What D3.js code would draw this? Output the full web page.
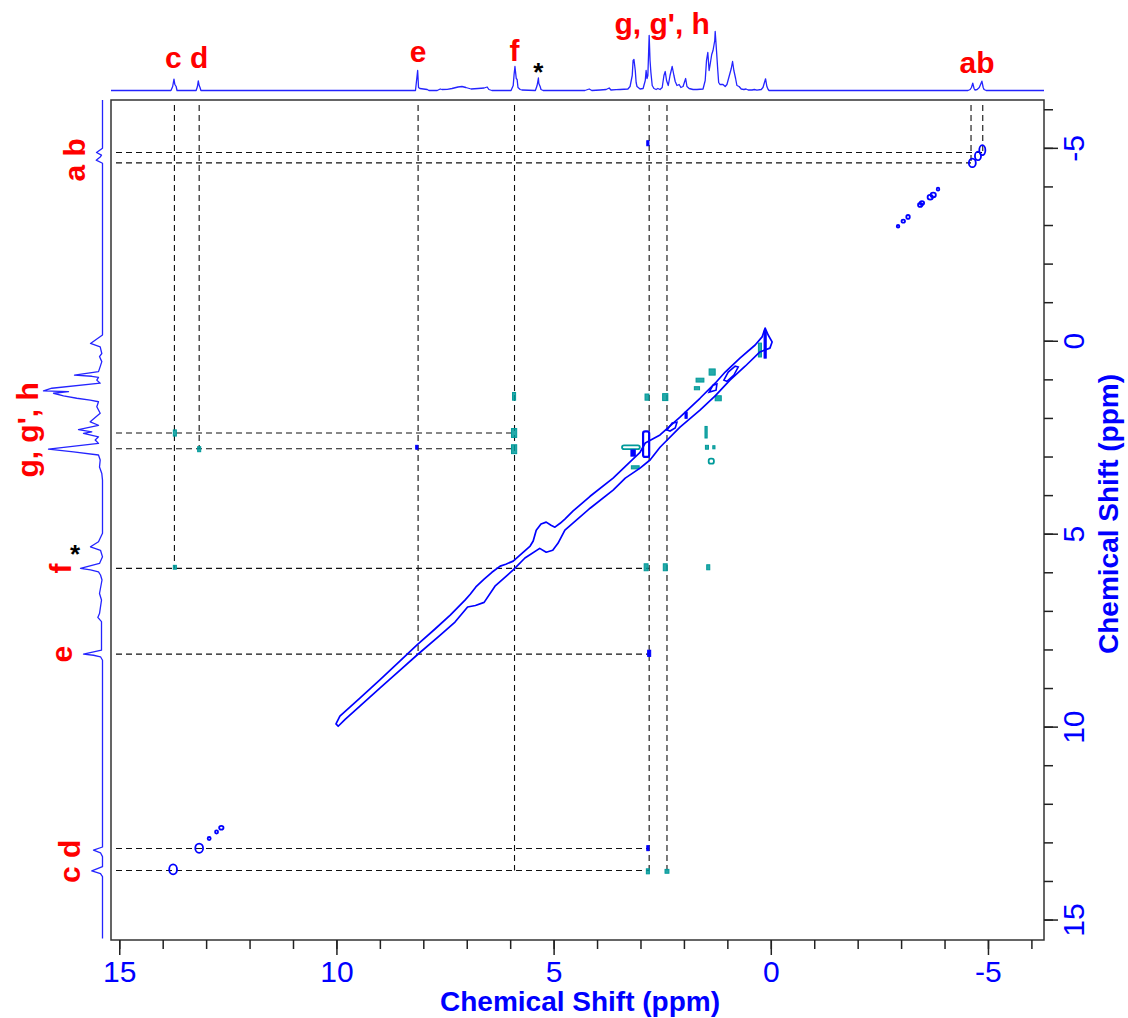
<!DOCTYPE html>
<html>
<head>
<meta charset="utf-8">
<script src="https://cdn.jsdelivr.net/npm/d3@7/dist/d3.min.js"></script>
<style>
html,body{margin:0;padding:0;background:#fff;}
svg{display:block;}
text{font-family:"Liberation Sans",Arial,Helvetica,sans-serif;}
</style>
</head>
<body>
<svg id="chart" width="1128" height="1018"></svg>
<script>
// ---- axis ticks (ppm) ----
const xMinorTicks = [15,14,13,12,11,10,9,8,7,6,5,4,3,2,1,0,-1,-2,-3,-4,-5,-6];
const xMajorTicks = [15,10,5,0,-5];
const yMinorTicks = [-6,-5,-4,-3,-2,-1,0,1,2,3,4,5,6,7,8,9,10,11,12,13,14,15];
const yMajorTicks = [-5,0,5,10,15];
const axisTitle = "Chemical Shift (ppm)";

// ---- assigned resonances (ppm) ----
const peakNames  = ["a", "b", "c", "d", "e", "f", "g", "g'"];
const peakShifts = [-4.61, -4.88, 13.73, 13.16, 8.12, 5.90, 2.80, 2.39];

// ---- top 1D projection: [ppm, intensity] ----
const topTrace = [
  [15.19,0],[13.81,0],[13.77,4],[13.74,11.4],[13.72,6],[13.69,4],[13.67,0],
  [13.23,0],[13.20,4],[13.18,9.6],[13.16,5],[13.14,3],[13.12,0],
  [8.18,0],[8.16,8],[8.13,20],[8.11,3],[8.08,2],[7.91,1],[7.87,0],
  [7.68,0],[7.61,1.5],[7.57,1],[7.45,1.2],[7.34,2],[7.20,3.5],[7.11,4],[7.02,3],[6.90,1.5],
  [6.74,2],[6.60,2.5],[6.53,3.5],[6.49,1],[6.42,0],
  [5.98,0],[5.93,5],[5.91,16],[5.89,24],[5.86,12],[5.84,11],[5.82,3],[5.77,1],[5.73,0.5],
  [5.42,0],[5.38,5],[5.35,12.5],[5.34,7],[5.31,4],[5.29,1],[5.24,0],
  [4.28,0],[4.18,1.5],[4.12,0],[3.93,0.5],[3.79,1],[3.72,2.5],[3.68,0.5],[3.56,0.8],[3.47,1],
  [3.29,1.5],[3.24,4],[3.19,15],[3.17,30],[3.15,31],[3.12,20],[3.10,8],[3.08,4],[3.01,1.5],
  [2.94,2],[2.89,10],[2.87,20],[2.85,12],[2.83,15],[2.80,55],[2.78,30],[2.76,18],[2.73,5],
  [2.69,2],[2.64,1],[2.60,2],[2.55,1],[2.50,3],[2.46,15],[2.43,19],[2.40,10],[2.36,5],
  [2.32,15],[2.27,24],[2.23,15],[2.20,9],[2.16,5],[2.11,6],[2.07,3],[2.02,4],[1.96,12],
  [1.93,4],[1.88,2],[1.79,1],[1.70,1],[1.56,1.5],[1.51,10],[1.48,30],[1.45,38],[1.42,20],
  [1.40,25],[1.36,36],[1.33,40],[1.29,50],[1.28,59],[1.25,40],[1.22,20],[1.20,8],[1.17,6],
  [1.10,6],[1.05,4],[1.01,6],[0.96,14],[0.91,22],[0.88,29],[0.85,20],[0.81,12],[0.78,5],
  [0.73,4],[0.68,1.5],[0.62,1],[0.57,1.5],[0.52,0.5],[0.43,0.5],[0.38,1],[0.32,0.3],
  [0.22,1],[0.18,3],[0.12,11.7],[0.09,4],[0.06,1],[0.04,0],
  [-4.54,0],[-4.59,1],[-4.62,3],[-4.65,7.3],[-4.68,2],[-4.70,0.5],[-4.75,1],[-4.80,3],
  [-4.86,9.3],[-4.89,3],[-4.91,1],[-4.96,0],[-6.29,0]
];

// ---- left 1D projection: [ppm, intensity] ----
const sideTrace = [
  [-6.24,0],[-4.99,0],[-4.88,6],[-4.81,1],[-4.77,2],[-4.68,6.3],[-4.60,0],
  [-0.15,0],[0.07,12],[0.16,2.3],[0.33,0.7],[0.41,3],[0.54,0.7],[0.67,2.3],[0.80,4],
  [0.89,28],[0.92,10.7],[0.95,4],[1.02,5.7],[1.10,2.3],[1.23,50.7],[1.30,59],[1.32,34],
  [1.36,49],[1.43,39],[1.49,25.7],[1.54,12.3],[1.58,4],[1.71,5.7],[1.88,2.3],[2.10,12.3],
  [2.19,4],[2.30,24],[2.36,10.7],[2.40,19],[2.49,4],[2.57,7.3],[2.66,4],[2.81,54],
  [2.88,29],[2.96,4],[3.09,2.3],[3.27,3],[3.44,0.7],[3.61,0],
  [4.99,0],[5.21,4],[5.34,12],[5.43,2],[5.60,0],[5.77,3],[5.90,22],[5.94,12],[5.99,4],
  [6.07,2],[6.20,0.5],[6.55,3],[6.72,1],[7.07,3],[7.17,4.7],[7.28,1],[7.76,1],[8.02,1],
  [8.12,19],[8.15,9],[8.19,2],[8.28,0],
  [13.12,0],[13.20,9],[13.27,2],[13.37,0],[13.63,0],[13.74,10.7],[13.81,2],[13.89,0],[15.49,0]
];

// ---- diagonal ridge, outer contour: [x ppm, y ppm] ----
const diagonalOutline = [
  [10.01,9.93],[9.92,9.73],[9.46,9.26],[9.00,8.79],[8.54,8.30],[8.15,7.89],[7.73,7.47],
  [7.38,7.11],[7.04,6.72],[6.92,6.57],[6.79,6.38],[6.60,6.18],[6.42,6.00],[6.23,5.84],
  [6.10,5.79],[5.93,5.71],
  [5.54,5.32],[5.47,5.19],[5.40,4.91],[5.29,4.75],[5.17,4.70],[5.06,4.78],[4.97,4.83],
  [4.85,4.73],[4.74,4.62],[4.55,4.41],[4.16,4.03],
  [3.63,3.56],[3.24,3.14],[3.01,2.89],[2.89,2.65],[2.55,2.44],[2.09,1.98],[1.63,1.49],
  [1.28,1.10],[1.05,0.81],[0.71,0.45],[0.36,0.11],[0.20,-0.10],[0.13,-0.33],[0.06,-0.15],
  [-0.03,0.03],
  [0.02,0.19],[0.25,0.29],[0.59,0.66],[0.94,1.02],[1.28,1.43],[1.63,1.80],[2.09,2.24],
  [2.55,2.76],[2.78,3.09],[3.01,3.30],[3.35,3.56],[3.63,3.87],[4.16,4.34],[4.74,4.91],
  [4.90,5.25],[5.02,5.43],[5.17,5.48],[5.32,5.38],[5.66,5.63],[5.93,5.94],[6.35,6.36],[6.60,6.78],
  [6.80,6.86],[6.98,6.90],[7.27,7.29],[7.61,7.63],[8.15,8.15],[8.54,8.54],[9.00,9.00],[9.46,9.47],
  [9.80,9.81],[9.96,9.99]
];

// ---- inner contour loops on the aliphatic diagonal ----
const innerLoops = [
  [[1.08,1.02],[0.98,0.81],[0.82,0.66],[0.75,0.68],[0.85,0.89],[1.01,1.05]],
  [[1.42,1.33],[1.33,1.15],[1.24,1.12],[1.26,1.28]],
  [[2.39,2.31],[2.27,2.13],[2.16,2.11],[2.20,2.26],[2.32,2.34]]
];

// ---- isolated diagonal peaks: [x ppm, y ppm, x width, y width] ----
const diagonalSpots = [
  [13.76,13.70,0.18,0.26],[13.16,13.15,0.18,0.24],
  [12.93,12.90,0.07,0.08],[12.76,12.73,0.07,0.08],[12.65,12.62,0.1,0.1],
  [-2.93,-2.97,0.06,0.07],[-3.05,-3.10,0.08,0.08],[-3.16,-3.21,0.08,0.1],
  [-3.44,-3.52,0.1,0.1],[-3.48,-3.57,0.1,0.1],[-3.67,-3.72,0.12,0.12],[-3.74,-3.78,0.12,0.12],
  [-3.85,-3.93,0.06,0.08],
  [-4.64,-4.61,0.16,0.22],[-4.77,-4.79,0.14,0.22],[-4.87,-4.94,0.14,0.26]
];

// ---- cross peaks, positive (blue) and negative (teal): [x ppm, y ppm, x width, y width] ----
const bluePeaks = [
  [8.15,2.76,0.05,0.1],[2.83,-5.12,0.05,0.13],[2.80,8.10,0.07,0.16],[2.83,13.15,0.05,0.13],
  [1.95,1.93,0.05,0.16],[3.17,2.91,0.1,0.16],[0.13,0.1,0.05,0.7]
];
const blueOutlinePeaks = [
  [2.87,2.68,0.14,0.66]
];
const tealPeaks = [
  [13.72,2.39,0.07,0.16],[13.72,5.87,0.07,0.1],[13.16,2.81,0.07,0.13],
  [5.91,1.44,0.07,0.2],[5.91,2.39,0.12,0.23],[5.91,2.81,0.12,0.23],
  [2.85,1.46,0.09,0.16],[2.43,1.46,0.12,0.18],
  [1.49,2.37,0.05,0.3],[1.47,2.76,0.07,0.1],[1.31,2.76,0.05,0.08],
  [1.63,1.02,0.18,0.1],[1.35,0.81,0.14,0.16],[1.21,1.49,0.14,0.13],[1.70,1.23,0.12,0.08],
  [0.25,0.24,0.07,0.36],[2.87,5.87,0.09,0.18],[2.43,5.87,0.09,0.18],[1.44,5.87,0.07,0.13],
  [2.83,13.75,0.07,0.13],[2.39,13.75,0.09,0.1],[3.12,3.28,0.18,0.08]
];
const tealOutlinePeaks = [
  [3.22,2.76,0.41,0.1],[1.37,3.12,0.12,0.13]
];

// ---- correlation guides ----
// vertical: from top edge down to the row of the partner shift
const vGuidePeaks   = ["c", "d", "e", "f", "g", "g'", "a", "b"];
const vGuideTargets = [5.90, 2.80, 8.12, 13.73, 13.73, 13.73, -4.61, -4.88];
// horizontal: from left edge across to the column of the partner shift
const hGuidePeaks   = ["a", "b", "g'", "g", "f", "e", "d", "c"];
const hGuideTargets = [-4.61, -4.88, 5.90, 5.90, 2.80, 2.80, 2.80, 2.80];

// ---- peak labels ----
const topLabelText = ["c d", "e", "f", "g, g', h", "ab"];
const topLabelPpm  = [13.45, 8.12, 5.90, 2.50, -4.75];
const sideLabelText = ["a b", "g, g', h", "f", "e", "c d"];
const sideLabelPpm  = [-4.69, 2.31, 5.90, 8.12, 13.49];
const impurityPpm = 5.35;

// ================= drawing =================
const svg = d3.select("#chart");
const box = {left: 111, right: 1044, top: 100, bottom: 940};

const x = d3.scaleLinear().domain([15.19, -6.29]).range([box.left, box.right]);
const y = d3.scaleLinear().domain([-6.24, 15.53]).range([box.top, box.bottom]);
const topI = d3.scaleLinear().domain([0, 60]).range([90.5, 30.5]);
const sideI = d3.scaleLinear().domain([0, 60]).range([102.5, 42.5]);

const shiftOf = name => peakShifts[peakNames.indexOf(name)];
const plain = d => String(d);   // hyphen-minus for negative shifts

const BLUE = "#0000ff", TRACE = "#2424ff", TEAL = "#009a9a", RED = "#ff0000";

// 1D traces
svg.append("path")
  .datum(topTrace)
  .attr("fill", "none").attr("stroke", TRACE).attr("stroke-width", 1.3)
  .attr("stroke-linejoin", "round")
  .attr("d", d3.line().x(d => x(d[0])).y(d => topI(d[1])));

svg.append("path")
  .datum(sideTrace)
  .attr("fill", "none").attr("stroke", TRACE).attr("stroke-width", 1.3)
  .attr("stroke-linejoin", "round")
  .attr("d", d3.line().x(d => sideI(d[1])).y(d => y(d[0])));

// plot area
const plot = svg.append("g");
plot.append("rect")
  .attr("x", box.left).attr("y", box.top)
  .attr("width", box.right - box.left).attr("height", box.bottom - box.top)
  .attr("fill", "#fff").attr("stroke", "#333").attr("stroke-width", 1.5);

// correlation guides
const guides = plot.append("g")
  .attr("stroke", "#111").attr("stroke-width", 1.1).attr("stroke-dasharray", "6,4").attr("fill", "none");
vGuidePeaks.forEach((p, i) => {
  const px = x(shiftOf(p));
  guides.append("line").attr("x1", px).attr("x2", px)
    .attr("y1", box.top + 5).attr("y2", y(vGuideTargets[i]));
});
hGuidePeaks.forEach((p, i) => {
  const py = y(shiftOf(p));
  guides.append("line").attr("y1", py).attr("y2", py)
    .attr("x1", box.left + 5).attr("x2", x(hGuideTargets[i]));
});

// cross peaks
const rectOf = (sel, d) => sel
  .attr("x", x(d[0] + d[2] / 2)).attr("y", y(d[1] - d[3] / 2))
  .attr("width", Math.abs(x(d[0] - d[2] / 2) - x(d[0] + d[2] / 2)))
  .attr("height", Math.abs(y(d[1] + d[3] / 2) - y(d[1] - d[3] / 2)));

plot.append("g").selectAll("rect").data(tealPeaks).join("rect")
  .each(function(d) { rectOf(d3.select(this), d); })
  .attr("fill", TEAL).attr("fill-opacity", 0.85).attr("stroke", TEAL).attr("stroke-width", 1);
plot.append("g").selectAll("rect").data(tealOutlinePeaks).join("rect")
  .each(function(d) { rectOf(d3.select(this), d); })
  .attr("rx", 2).attr("fill", "none").attr("stroke", TEAL).attr("stroke-width", 1.8);

// diagonal contours
const contour = d3.line().x(d => x(d[0])).y(d => y(d[1])).curve(d3.curveLinearClosed);
plot.append("path").datum(diagonalOutline)
  .attr("fill", "none").attr("stroke", BLUE).attr("stroke-width", 1.7)
  .attr("stroke-linejoin", "round").attr("d", contour);
plot.append("g").selectAll("path").data(innerLoops).join("path")
  .attr("fill", "none").attr("stroke", BLUE).attr("stroke-width", 1.6).attr("d", contour);

plot.append("g").selectAll("ellipse").data(diagonalSpots).join("ellipse")
  .attr("cx", d => x(d[0])).attr("cy", d => y(d[1]))
  .attr("rx", d => Math.abs(x(0) - x(d[2])) / 2).attr("ry", d => Math.abs(y(d[3]) - y(0)) / 2)
  .attr("fill", "none").attr("stroke", BLUE).attr("stroke-width", 1.8);

plot.append("g").selectAll("rect").data(bluePeaks).join("rect")
  .each(function(d) { rectOf(d3.select(this), d); })
  .attr("fill", BLUE).attr("stroke", BLUE).attr("stroke-width", 1);
plot.append("g").selectAll("rect").data(blueOutlinePeaks).join("rect")
  .each(function(d) { rectOf(d3.select(this), d); })
  .attr("rx", 2).attr("fill", "none").attr("stroke", BLUE).attr("stroke-width", 2.2);

// axes
const tickColor = "#222";
function styleAxis(g) {
  g.select(".domain").remove();
  g.selectAll(".tick line").attr("stroke", tickColor).attr("stroke-width", 1.5);
}
svg.append("g").attr("transform", `translate(0,${box.bottom})`)
  .call(d3.axisBottom(x).tickValues(xMinorTicks).tickSize(9).tickFormat(""))
  .call(styleAxis);
const xAx = svg.append("g").attr("transform", `translate(0,${box.bottom})`)
  .call(d3.axisBottom(x).tickValues(xMajorTicks).tickSize(15).tickPadding(6).tickFormat(plain))
  .call(styleAxis);
xAx.selectAll("text").attr("fill", BLUE).attr("font-size", 30)
  .attr("font-family", "'Liberation Sans', Arial, sans-serif");

svg.append("g").attr("transform", `translate(${box.right},0)`)
  .call(d3.axisRight(y).tickValues(yMinorTicks).tickSize(9).tickFormat(""))
  .call(styleAxis);
const yAx = svg.append("g").attr("transform", `translate(${box.right},0)`)
  .call(d3.axisRight(y).tickValues(yMajorTicks).tickSize(14).tickFormat(plain))
  .call(styleAxis);
yAx.selectAll("text")
  .attr("fill", BLUE).attr("font-size", 30)
  .attr("font-family", "'Liberation Sans', Arial, sans-serif")
  .attr("x", null).attr("dy", null)
  .attr("text-anchor", "middle")
  .attr("transform", "translate(40,0) rotate(-90)");

// axis titles
svg.append("text").attr("x", 580).attr("y", 1011)
  .attr("text-anchor", "middle").attr("font-size", 28).attr("font-weight", "bold")
  .attr("fill", BLUE).text(axisTitle);
svg.append("text").attr("transform", "translate(1118,514) rotate(-90)")
  .attr("text-anchor", "middle").attr("font-size", 28).attr("font-weight", "bold")
  .attr("fill", BLUE).text(axisTitle);

// peak labels, top
const topBase = [68, 62, 61, 34, 73];
svg.append("g").selectAll("text").data(topLabelText).join("text")
  .attr("x", (d, i) => x(topLabelPpm[i])).attr("y", (d, i) => topBase[i])
  .attr("text-anchor", "middle").attr("font-size", 30).attr("font-weight", "bold")
  .attr("fill", RED).text(d => d);
svg.append("text").attr("x", x(impurityPpm)).attr("y", 81)
  .attr("text-anchor", "middle").attr("font-size", 26).attr("font-weight", "bold")
  .attr("fill", "#000").text("*");

// peak labels, left (rotated)
const sideBase = [85, 38, 71, 72, 80];
svg.append("g").selectAll("text").data(sideLabelText).join("text")
  .attr("transform", (d, i) => `translate(${sideBase[i]},${y(sideLabelPpm[i])}) rotate(-90)`)
  .attr("text-anchor", "middle").attr("font-size", 30).attr("font-weight", "bold")
  .attr("fill", RED).text(d => d);
svg.append("text").attr("x", 75).attr("y", y(impurityPpm) + 16)
  .attr("text-anchor", "middle").attr("font-size", 26).attr("font-weight", "bold")
  .attr("fill", "#000").text("*");
</script>
</body>
</html>
